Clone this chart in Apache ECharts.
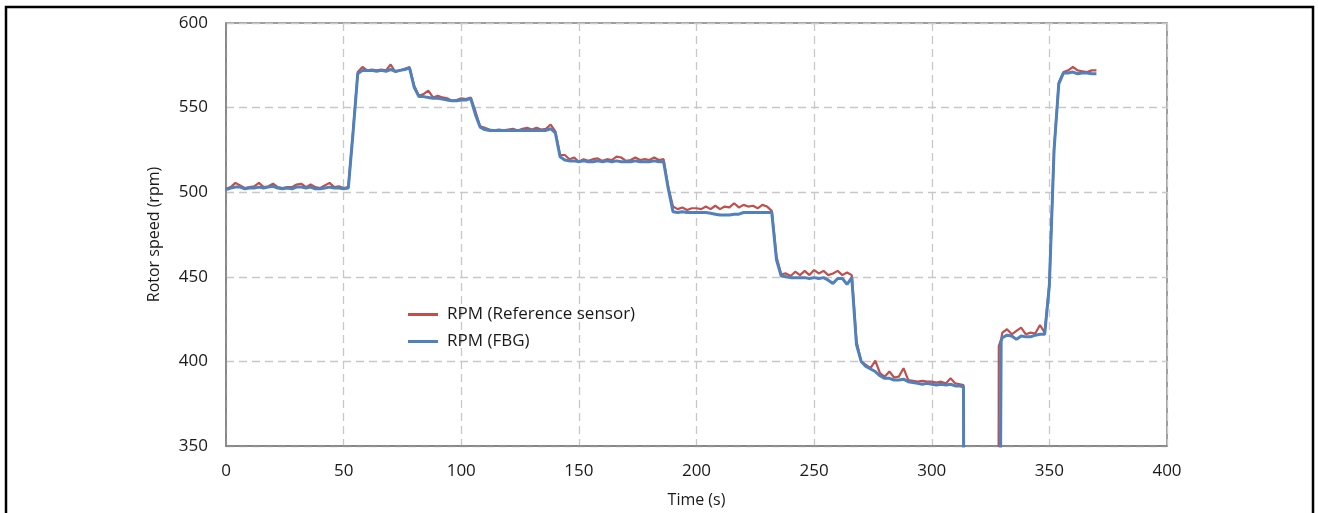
<!DOCTYPE html>
<html>
<head>
<meta charset="utf-8">
<script src="https://cdn.jsdelivr.net/npm/echarts@6/dist/echarts.min.js"></script>
<style>
html,body{margin:0;padding:0;background:#fff;}
#chart{width:1318px;height:513px;}
</style>
</head>
<body>
<div id="chart"></div>
<script>
// Time (s)
var time = [0,2,4,6,8,10,12,14,16,18,20,22,24,26,28,30,32,34,36,38,40,42,44,46,48,50,
52,54,56,58,60,62,64,66,68,70,72,74,76,78,80,82,84,86,88,90,92,94,96,98,100,
102,104,106,108,110,112,114,116,118,120,122,124,126,128,130,132,134,136,138,140,
142,144,146,148,150,152,154,156,158,160,162,164,166,168,170,172,174,176,178,180,
182,184,186,188,190,192,194,196,198,200,202,204,206,208,210,212,214,216,218,220,
222,224,226,228,230,232,234,236,238,240,242,244,246,248,250,252,254,256,258,260,
262,264,266,268,270,272,274,276,278,280,282,284,286,288,290,292,294,296,298,300,
302,304,306,308,310,312,313.5,314,328,328.5,329.5,330,332,334,336,338,340,
342,344,346,348,350,352,354,356,358,360,362,364,366,368,370];

// RPM (Reference sensor)
var refRpm = [502,503,505.5,504,502.5,503,503.5,505.5,503,503.5,505,503,502.5,503,503,504.5,505,503,504.5,503,502.5,504,505.5,503,503.5,502.5,
503,536,571,574,572,572.5,572,572.5,572,575.5,571,572,573,574,563,557,558,560,556,557,556,555.5,554,554.5,555.5,
555,556,548,539,538,537,536.5,537,536.5,537,537.5,536.5,537.5,538,537,538,537,537.5,540,536,
522,522,519.5,520.5,518,519.5,518.5,519.5,520,518.5,519.5,519,521,520.5,518.5,519,520.5,519,519.5,519,
520.5,519,519.5,503,491.5,490,491,489.5,490.5,490.5,490,491.5,490,492,490,491.5,491,493.5,491,492.5,
491.5,492,490.5,492.5,491.5,489,462,451.5,452,450.5,453,451,453.5,451,454,452,453.5,451,452,453.5,
451,452.5,451,412,400,398,396,400.5,393,391,394,390.5,391,396,389,388.5,388,388.5,388,388,
387.5,388,387,390,387,386.5,386,0,0,409,413,417,419,416,418,420,416,
417,416.5,421.5,417,446,526,565,571,572,574,572,571.5,571,572,572];

// RPM (FBG)
var fbgRpm = [501.5,502.5,503,503,502,502.5,502.5,503,502.5,503,503.5,502.5,502,502.5,502,503,503,502.5,503,502,502,502.5,503,502.5,502.5,502,
502.5,535,570,572,572,572,571.5,572,571.5,572.5,571.5,572,572.5,573.5,562,556.5,556.5,556,555.5,555.5,555,554.5,554,554,554.5,
554.5,555.5,546,538.5,537,536.5,536.5,536.5,536.5,536.5,536.5,536.5,536.5,536.5,536.5,536.5,536.5,536.5,537.5,535,
521,519,518.5,518.5,518,518.5,518,518,518.5,518,518.5,518,518.5,518,518,518,518.5,518,518,518,
518.5,518,518,502,488.5,488,488.5,488,488,488,488,488,487.5,487,486.5,486.5,486.5,487,487,488,
488,488,488,488,488,488,460,450.5,450,449.5,449.5,449.5,449.5,449,449.5,449,449.5,448,446,449,
449,445.5,449.5,410,400,397,395.5,394,391.5,390,390,389,389,389.5,388,387.5,387,386.5,387,386.5,
386,386.5,386,386.5,385.5,385.5,385,0,0,0,412,414,415.5,415,413,415,414.5,
414.5,415.5,416,416,445,525,564,570.5,570.5,571,570,570.5,570.5,570,570];

var xTicks = [0,50,100,150,200,250,300,350,400];
var yTicks = [350,400,450,500,550,600];

function pairs(ys){ return time.map(function(t,i){ return [t, ys[i]]; }); }

var FONT = '"Open Sans", sans-serif';
var chart = echarts.init(document.getElementById('chart'), null, {renderer:'canvas'});
chart.setOption({
  animation:false,
  backgroundColor:'#ffffff',
  graphic:[{
    type:'rect', z:0, silent:true,
    shape:{x:6, y:7, width:1307, height:530},
    style:{fill:null, stroke:'#000', lineWidth:2.5}
  }],
  grid:{left:226, top:23, right:151, bottom:63, show:true, borderColor:'#808080', borderWidth:1.5, backgroundColor:'transparent'},
  legend:{
    orient:'vertical', left:408, top:306, padding:0, icon:'rect', itemWidth:30, itemHeight:3, itemGap:10,
    textStyle:{fontFamily:FONT, fontSize:17, color:'#1a1a1a', padding:[0,0,0,4]},
    data:['RPM (Reference sensor)','RPM (FBG)']
  },
  xAxis:{
    type:'value', min:xTicks[0], max:xTicks[xTicks.length-1], interval:50,
    name:'Time (s)', nameLocation:'middle', nameGap:46,
    nameTextStyle:{fontFamily:FONT, fontSize:16, color:'#1a1a1a'},
    axisLine:{show:true, lineStyle:{color:'#808080', width:1.5}},
    axisTick:{show:false},
    axisLabel:{fontFamily:FONT, fontSize:17, color:'#1a1a1a', margin:17},
    splitLine:{show:true, lineStyle:{color:'#c8c8c8', width:1.3, type:[8,5]}}
  },
  yAxis:{
    type:'value', min:yTicks[0], max:yTicks[yTicks.length-1], interval:50,
    name:'Rotor speed (rpm)', nameLocation:'middle', nameGap:64, nameRotate:90,
    nameTextStyle:{fontFamily:FONT, fontSize:16, color:'#1a1a1a'},
    axisLine:{show:true, lineStyle:{color:'#808080', width:1.5}},
    axisTick:{show:false},
    axisLabel:{fontFamily:FONT, fontSize:17, color:'#1a1a1a', margin:18},
    splitLine:{show:true, lineStyle:{color:'#c8c8c8', width:1.3, type:[8,5]}}
  },
  series:[
    {name:'RPM (Reference sensor)', type:'line', data:pairs(refRpm), symbol:'none', showSymbol:false,
     clip:true, lineStyle:{color:'#C0504D', width:2.2}, itemStyle:{color:'#C0504D'}, z:2},
    {name:'RPM (FBG)', type:'line', data:pairs(fbgRpm), symbol:'none', showSymbol:false,
     clip:true, lineStyle:{color:'#4F81BD', width:3}, itemStyle:{color:'#4F81BD'}, z:3}
  ]
});
</script>
</body>
</html>
